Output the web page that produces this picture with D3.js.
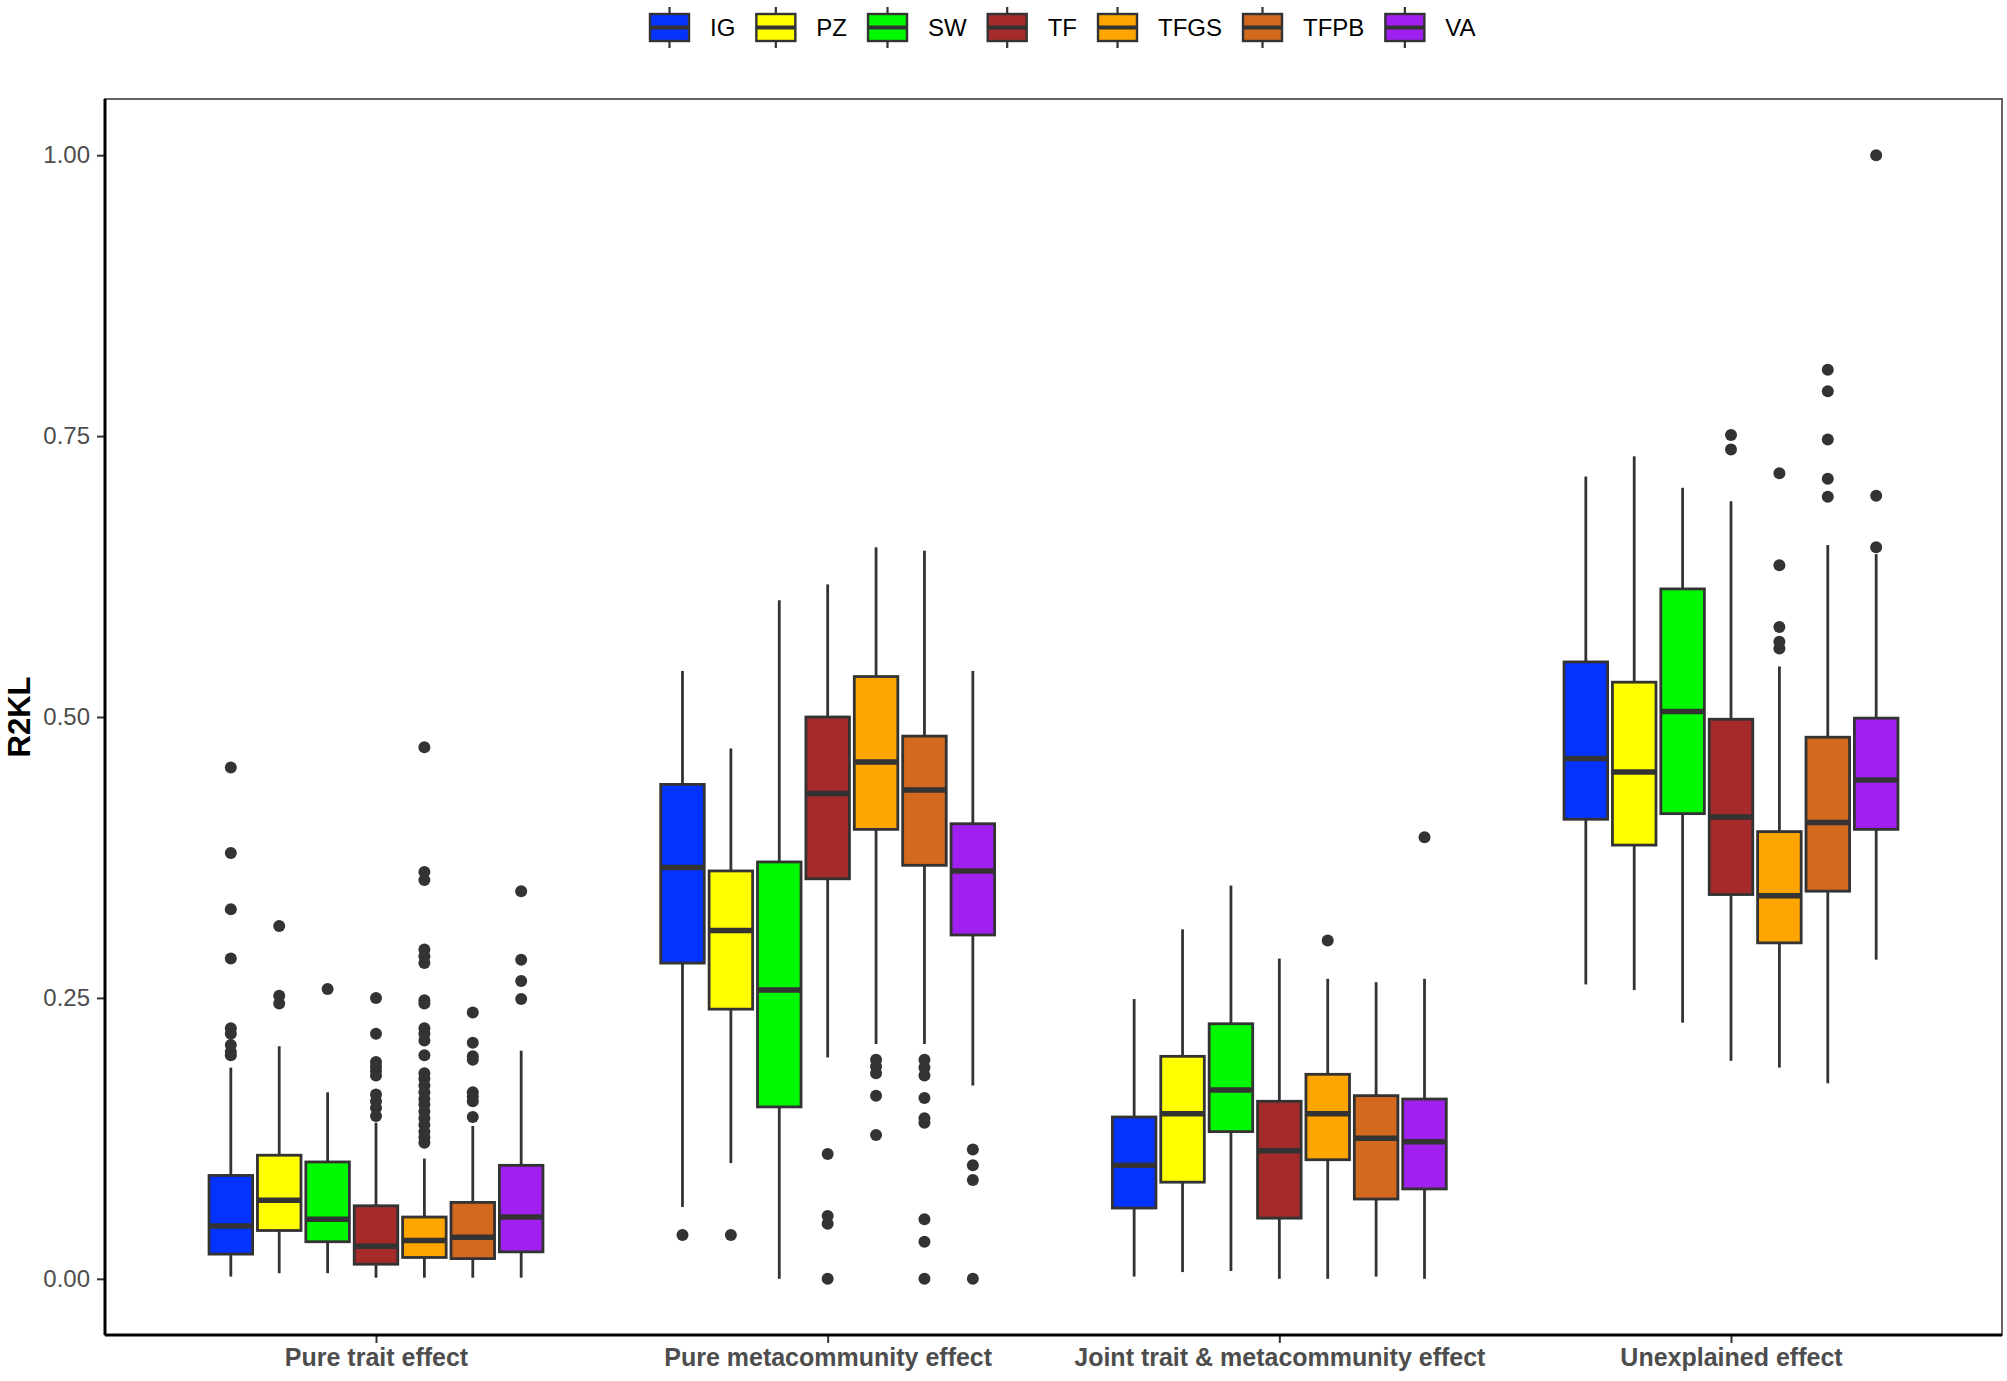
<!DOCTYPE html>
<html>
<head>
<meta charset="utf-8">
<script src="https://cdn.jsdelivr.net/npm/d3@7"></script>
<style>
  body { margin: 0; background: #fff; }
  svg { display: block; font-family: "Liberation Sans", Arial, sans-serif; }
</style>
</head>
<body>
<script>
const species = ["IG", "PZ", "SW", "TF", "TFGS", "TFPB", "VA"]
const speciesColors = ["#0433FF", "#FFFF00", "#00F900", "#A52A2A", "#FFA500", "#D2691E", "#A020F0"]
const effects = ["Pure trait effect", "Pure metacommunity effect", "Joint trait & metacommunity effect", "Unexplained effect"]
const yTicks = [0, 0.25, 0.5, 0.75, 1]

// [lower whisker, q1, median, q3, upper whisker] per species
const pureTraitStats = [
  [0.002, 0.022, 0.047, 0.092, 0.188],
  [0.005, 0.043, 0.070, 0.110, 0.207],
  [0.005, 0.033, 0.053, 0.104, 0.166],
  [0.001, 0.013, 0.029, 0.065, 0.139],
  [0.001, 0.019, 0.034, 0.055, 0.107],
  [0.001, 0.018, 0.037, 0.068, 0.136],
  [0.001, 0.024, 0.055, 0.101, 0.203]
]
const pureTraitOutliers = [
  [0.455, 0.379, 0.329, 0.285, 0.223, 0.218, 0.208, 0.202, 0.199],
  [0.314, 0.252, 0.245],
  [0.258],
  [0.250, 0.218, 0.193, 0.189, 0.185, 0.181, 0.164, 0.158, 0.152, 0.145],
  [0.473, 0.362, 0.355, 0.293, 0.287, 0.281, 0.248, 0.245, 0.223, 0.218, 0.212, 0.199,
   0.183, 0.178, 0.172, 0.166, 0.160, 0.155, 0.149, 0.143, 0.137, 0.131, 0.126, 0.121],
  [0.237, 0.210, 0.198, 0.195, 0.166, 0.162, 0.158, 0.144],
  [0.345, 0.284, 0.265, 0.249]
]

const pureMetaStats = [
  [0.064, 0.281, 0.366, 0.440, 0.541],
  [0.103, 0.240, 0.310, 0.363, 0.472],
  [0.000, 0.153, 0.257, 0.371, 0.604],
  [0.197, 0.356, 0.432, 0.500, 0.618],
  [0.209, 0.400, 0.460, 0.536, 0.651],
  [0.209, 0.368, 0.435, 0.483, 0.648],
  [0.172, 0.306, 0.363, 0.405, 0.541]
]
const pureMetaOutliers = [
  [0.039],
  [0.039],
  [],
  [0.111, 0.056, 0.049, 0.000],
  [0.195, 0.189, 0.183, 0.163, 0.128],
  [0.195, 0.188, 0.181, 0.161, 0.143, 0.139, 0.053, 0.033, 0.000],
  [0.115, 0.101, 0.088, 0.000]
]

const jointStats = [
  [0.002, 0.063, 0.101, 0.144, 0.249],
  [0.006, 0.086, 0.147, 0.198, 0.311],
  [0.007, 0.131, 0.168, 0.227, 0.350],
  [0.000, 0.054, 0.114, 0.158, 0.285],
  [0.000, 0.106, 0.147, 0.182, 0.267],
  [0.002, 0.071, 0.125, 0.163, 0.264],
  [0.000, 0.080, 0.122, 0.160, 0.267]
]
const jointOutliers = [[], [], [], [], [0.301], [], [0.393]]

const unexplainedStats = [
  [0.262, 0.409, 0.463, 0.549, 0.714],
  [0.257, 0.386, 0.451, 0.531, 0.732],
  [0.228, 0.414, 0.505, 0.614, 0.704],
  [0.194, 0.342, 0.411, 0.498, 0.692],
  [0.188, 0.299, 0.341, 0.398, 0.545],
  [0.174, 0.345, 0.406, 0.482, 0.653],
  [0.284, 0.400, 0.444, 0.499, 0.645]
]
const unexplainedOutliers = [[], [], [], [0.751, 0.738], [0.717, 0.635, 0.580, 0.567, 0.561],
  [0.809, 0.790, 0.747, 0.712, 0.696], [1.000, 0.697, 0.651]]

const allStats = [pureTraitStats, pureMetaStats, jointStats, unexplainedStats]
const allOutliers = [pureTraitOutliers, pureMetaOutliers, jointOutliers, unexplainedOutliers]

// ===== layout =====
const width = 2007, height = 1381
const margin = {left: 105, top: 99, right: 5, bottom: 46}
const ink = "#333333"

const svg = d3.select("body").append("svg")
  .attr("width", width).attr("height", height)

const x = d3.scalePoint().domain(effects)
  .range([margin.left, width - margin.right]).padding(0.6)
const dodge = d3.scaleBand().domain(species)
  .range([-0.375 * x.step(), 0.375 * x.step()])
const boxW = dodge.bandwidth() * 0.9
const y = d3.scaleLinear().domain([-0.05, 1.05])
  .range([height - margin.bottom, margin.top])
const color = d3.scaleOrdinal().domain(species).range(speciesColors)

// panel border
svg.append("rect")
  .attr("x", margin.left).attr("y", margin.top)
  .attr("width", width - margin.left - margin.right)
  .attr("height", height - margin.top - margin.bottom)
  .attr("fill", "none").attr("stroke", ink).attr("stroke-width", 1.5)

// ===== boxes =====
const rows = []
effects.forEach((e, i) => {
  species.forEach((s, j) => {
    const st = allStats[i][j]
    rows.push({effect: e, species: s, lo: st[0], q1: st[1], med: st[2], q3: st[3], hi: st[4],
      out: allOutliers[i][j]})
  })
})

const g = svg.append("g")
  .selectAll("g").data(rows).join("g")
  .attr("transform", d => `translate(${x(d.effect) + dodge(d.species) + dodge.bandwidth() / 2},0)`)

g.append("line")
  .attr("y1", d => y(d.hi)).attr("y2", d => y(d.q3))
  .attr("stroke", ink).attr("stroke-width", 2.8)
g.append("line")
  .attr("y1", d => y(d.q1)).attr("y2", d => y(d.lo))
  .attr("stroke", ink).attr("stroke-width", 2.8)
g.append("rect")
  .attr("x", -boxW / 2).attr("width", boxW)
  .attr("y", d => y(d.q3)).attr("height", d => y(d.q1) - y(d.q3))
  .attr("fill", d => color(d.species))
  .attr("stroke", ink).attr("stroke-width", 2.8)
g.append("line")
  .attr("x1", -boxW / 2).attr("x2", boxW / 2)
  .attr("y1", d => y(d.med)).attr("y2", d => y(d.med))
  .attr("stroke", ink).attr("stroke-width", 5.5)
g.selectAll("circle").data(d => d.out).join("circle")
  .attr("cy", d => y(d)).attr("r", 6)
  .attr("fill", ink)

// ===== axes =====
const yAxis = svg.append("g")
  .attr("transform", `translate(${margin.left},0)`)
  .call(d3.axisLeft(y).tickValues(yTicks).tickFormat(d3.format(".2f")).tickSize(8).tickPadding(7))
yAxis.select(".domain").remove()
yAxis.selectAll(".tick line").attr("stroke", ink).attr("stroke-width", 2)
yAxis.selectAll(".tick text")
  .attr("fill", "#4D4D4D").attr("font-size", 24)
  .attr("font-family", "Liberation Sans, Arial, sans-serif")

const xAxis = svg.append("g")
  .attr("transform", `translate(0,${height - margin.bottom})`)
  .call(d3.axisBottom(x).tickSize(8).tickPadding(5))
xAxis.select(".domain").remove()
xAxis.selectAll(".tick line").attr("stroke", ink).attr("stroke-width", 2)
xAxis.selectAll(".tick text")
  .attr("fill", "#4D4D4D").attr("font-size", 25).attr("font-weight", "bold")
  .attr("font-family", "Liberation Sans, Arial, sans-serif")

// axis lines (left and bottom are heavier)
svg.append("line")
  .attr("x1", margin.left).attr("x2", margin.left)
  .attr("y1", margin.top).attr("y2", height - margin.bottom)
  .attr("stroke", "#000").attr("stroke-width", 3)
svg.append("line")
  .attr("x1", margin.left).attr("x2", width - margin.right)
  .attr("y1", height - margin.bottom).attr("y2", height - margin.bottom)
  .attr("stroke", "#000").attr("stroke-width", 3)

svg.append("text")
  .attr("transform", `translate(19,${(margin.top + height - margin.bottom) / 2}) rotate(-90)`)
  .attr("text-anchor", "middle").attr("dominant-baseline", "central")
  .attr("font-size", 31).attr("font-weight", "bold").attr("fill", "#000")
  .text("R2KL")

// ===== legend =====
const legend = svg.append("g")
let lx = 650
const keyW = 39, keyTop = 14, keyH = 27
species.forEach((s, i) => {
  const kg = legend.append("g").attr("transform", `translate(${lx},0)`)
  kg.append("line").attr("x1", keyW / 2).attr("x2", keyW / 2)
    .attr("y1", 7).attr("y2", 48).attr("stroke", ink).attr("stroke-width", 2.2)
  kg.append("rect").attr("x", 0).attr("y", keyTop).attr("width", keyW).attr("height", keyH)
    .attr("fill", color(s)).attr("stroke", ink).attr("stroke-width", 2.4)
  kg.append("line").attr("x1", 0).attr("x2", keyW)
    .attr("y1", keyTop + keyH / 2).attr("y2", keyTop + keyH / 2)
    .attr("stroke", ink).attr("stroke-width", 4)
  const t = kg.append("text").attr("x", keyW + 21).attr("y", keyTop + keyH / 2)
    .attr("dominant-baseline", "central").attr("font-size", 24).attr("fill", "#000")
    .text(s)
  lx += keyW + 21 + t.node().getComputedTextLength() + 21
})
</script>
</body>
</html>
